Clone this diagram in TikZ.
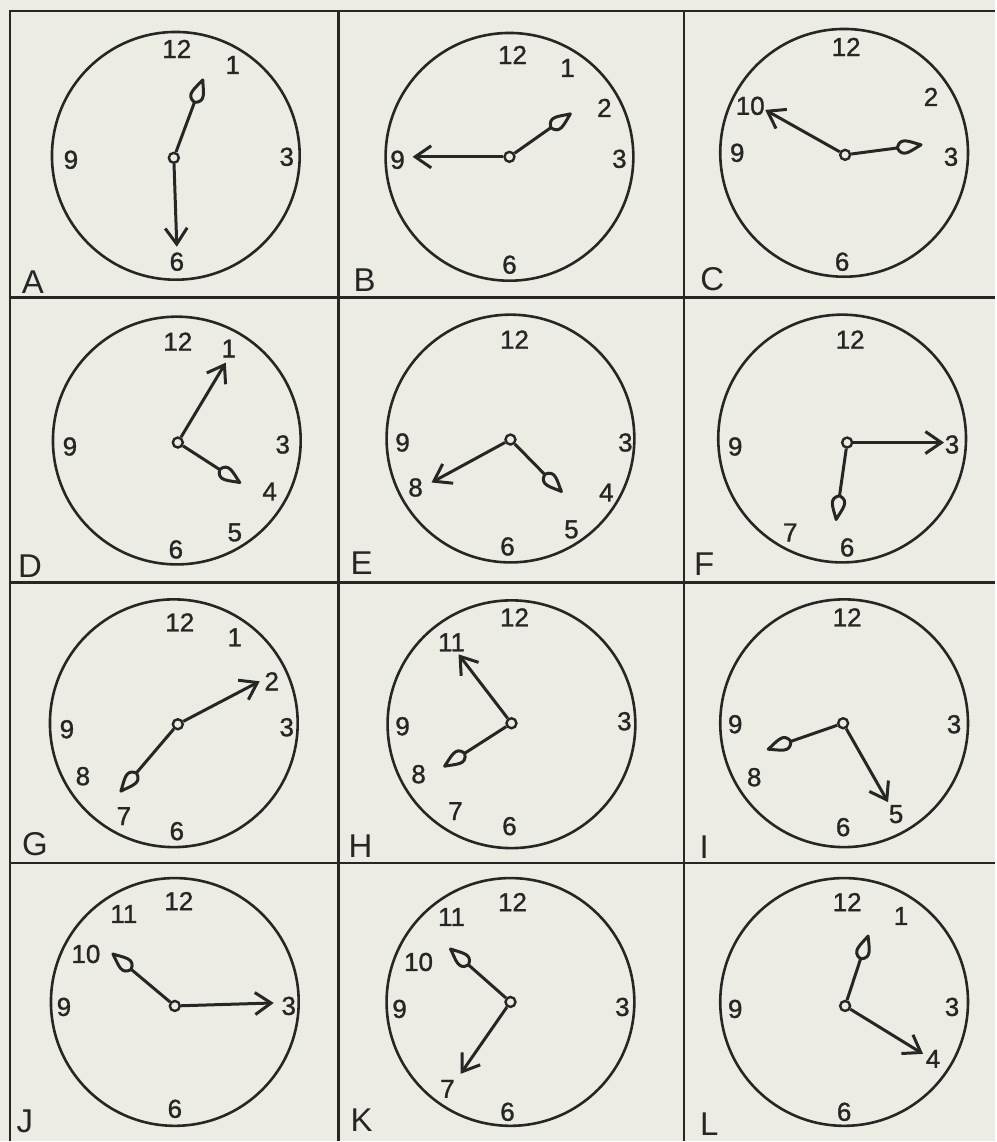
\documentclass[tikz,border=0pt]{standalone}
\usepackage{fontspec}
\setmainfont{Liberation Sans}
\newfontfamily\numfont[FakeBold=1.2]{Liberation Sans}
\usetikzlibrary{arrows.meta,calc}

\definecolor{paper}{RGB}{237,236,228}
\definecolor{ink}{RGB}{38,38,36}

\newcommand{\hourhand}[2]{%
  \draw[hand] (#1) -- ($(#2)!12pt!(#1)$) coordinate (lb);
  \draw[hand, fill=paper] (lb) .. controls ($(lb)!6pt!70:(#2)$) and ($(#2)!6pt!-22:(lb)$) .. (#2)
    .. controls ($(#2)!6pt!22:(lb)$) and ($(lb)!6pt!-70:(#2)$) .. (lb) -- cycle;}

\begin{document}
\begin{tikzpicture}[x=0.5pt, y=-0.5pt,
    rule/.style={ink, line width=1.2pt},
    face/.style={circle, draw=ink, line width=1.3pt, minimum size=124pt, inner sep=0pt},
    hub/.style={circle, draw=ink, fill=paper, line width=1.2pt, minimum size=5pt, inner sep=0pt},
    num/.style={text=ink, inner sep=0pt, font=\numfont\fontsize{13}{13}\selectfont},
    tag/.style={text=ink, inner sep=0pt, font=\fontsize{16.5}{16.5}\selectfont},
    hand/.style={ink, line width=1.5pt, line join=round},
    minute/.style={hand, -{Straight Barb[length=8pt, width=11pt]}}]

    \fill[paper] (0,0) rectangle (996,1142);

    \draw[rule] (10,1142) -- (10,11) -- (996,11);
    \foreach \x in {339,685} \draw[rule] (\x,11) -- (\x,1142);
    \foreach \y in {298,583,864} \draw[rule] (10,\y) -- (996,\y);

    \foreach \c/\x/\y in {A/176/156, B/510/157, C/845/153,
                          D/177/441, E/511/439, F/843/439,
                          G/174/724, H/512/725, I/845/724,
                          J/175/1003, K/511/1003, L/845/1003}
        \node[face] (face\c) at (\x,\y) {};

    \foreach \c/\x/\y in {A/33/282, B/365/280, C/713/279,
                          D/30/567, E/362/564, F/705/565,
                          G/35/845, H/361/847, I/705/848,
                          J/25/1122, K/362/1121, L/710/1125}
        \node[tag] (tag\c) at (\x,\y) {\c};

    \foreach \t/\x/\y in {12/177/49, 1/233/65, 3/287/157, 9/71/160, 6/177/262}
        \node[num] (A-\t) at (\x,\y) {\t};
    \foreach \t/\x/\y in {12/513/55, 1/568/68, 2/605/108, 3/620/159, 9/398/160, 6/510/265}
        \node[num] (B-\t) at (\x,\y) {\t};
    \foreach \t/\x/\y in {12/847/47, 2/932/97, 3/952/157, 9/738/153, 10/751/106, 6/843/262}
        \node[num] (C-\t) at (\x,\y) {\t};
    \foreach \t/\x/\y in {12/178/342, 1/229/349, 3/283/445, 4/270/492, 5/235/533, 6/176/550, 9/70/447}
        \node[num] (D-\t) at (\x,\y) {\t};
    \foreach \t/\x/\y in {12/515/340, 3/626/443, 4/607/493, 5/572/530, 6/508/547, 8/416/488, 9/403/443}
        \node[num] (E-\t) at (\x,\y) {\t};
    \foreach \t/\x/\y in {12/851/340, 3/953/445, 6/848/548, 7/791/533, 9/736/447}
        \node[num] (F-\t) at (\x,\y) {\t};
    \foreach \t/\x/\y in {12/180/623, 1/235/638, 2/272/682, 3/287/728, 6/177/832, 7/124/817, 8/83/777, 9/67/730}
        \node[num] (G-\t) at (\x,\y) {\t};
    \foreach \t/\x/\y in {12/515/618, 11/452/643, 3/625/722, 9/403/727, 8/419/775, 7/456/812, 6/510/827}
        \node[num] (H-\t) at (\x,\y) {\t};
    \foreach \t/\x/\y in {12/848/618, 3/955/725, 5/897/815, 6/844/828, 8/755/778, 9/736/725}
        \node[num] (I-\t) at (\x,\y) {\t};
    \foreach \t/\x/\y in {12/179/902, 11/124/915, 10/86/955, 9/64/1008, 3/289/1007, 6/175/1110}
        \node[num] (J-\t) at (\x,\y) {\t};
    \foreach \t/\x/\y in {12/513/903, 11/452/918, 10/419/963, 9/400/1010, 3/623/1008, 7/448/1090, 6/508/1113}
        \node[num] (K-\t) at (\x,\y) {\t};
    \foreach \t/\x/\y in {12/848/903, 1/902/917, 3/953/1008, 4/934/1060, 6/845/1113, 9/736/1010}
        \node[num] (L-\t) at (\x,\y) {\t};

    \foreach \c/\x/\y/\mx/\my/\hx/\hy in {
            A/174/158/177/247/203/80,    B/510/157/413/157/571/114,  C/846/155/766/110/922/145,
            D/178/443/226/363/240/483,   E/511/440/432/483/562/492,  F/848/443/945/443/837/520,
            G/178/725/260/682/121/792,   H/512/724/459/655/445/767,  I/844/724/889/803/769/750,
            J/175/1007/274/1004/113/955, K/511/1003/461/1075/451/950, L/846/1007/924/1055/869/937} {
        \node[hub] (hub\c) at (\x,\y) {};
        \coordinate (min\c) at (\mx,\my);
        \coordinate (hr\c) at (\hx,\hy);
        \draw[minute] (hub\c) -- (min\c);
        \hourhand{hub\c}{hr\c}
    }
\end{tikzpicture}
\end{document}
